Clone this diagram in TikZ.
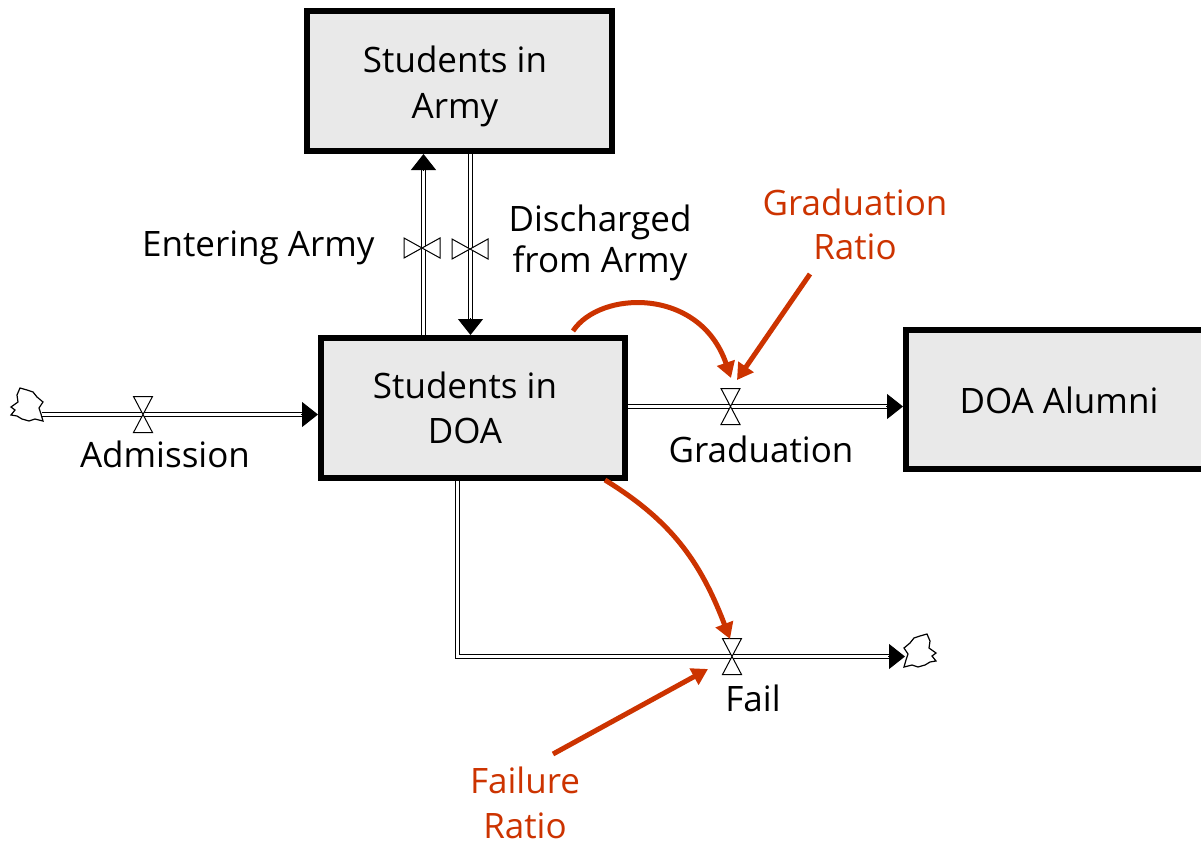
\documentclass[tikz,border=0pt]{standalone}
\usepackage{fontspec}
\setmainfont{Open Sans}
\usetikzlibrary{arrows.meta,calc}
\definecolor{ratiored}{RGB}{204,51,0}
\definecolor{stockfill}{RGB}{233,233,233}
\tikzset{
  stock/.style={draw=black, line width=3pt, fill=stockfill},
  pipe/.style={draw=black, line width=0.5pt, double=white, double distance=1.4pt, line join=miter},
  pipetip/.style={draw=black, line width=0.5pt, -{Triangle[length=8pt,width=12.5pt]}},
  ratio/.style={draw=ratiored, line width=2.5pt, -{Triangle[length=8pt,width=9pt]}},
  redtext/.style={text=ratiored, align=center},
  valveh/.pic={\draw[black, line width=0.5pt, fill=white]
      (-9.5,-18) -- (9.5,-18) -- (0,0) -- cycle
      (-9.5,18) -- (9.5,18) -- (0,0) -- cycle;},
  valvev/.pic={\draw[black, line width=0.5pt, fill=white]
      (-18,-10) -- (-18,10) -- (0,0) -- cycle
      (18,-10) -- (18,10) -- (0,0) -- cycle;},
  cloudpic/.pic={\draw[black, line width=0.6pt, fill=white]
      (-7,-18) -- (0,-16) -- (6,-14) -- (10,-9) -- (16,-4) -- (12,2) -- (14,8)
      -- (16,15) -- (8,13) -- (2,15) -- (-5,13) -- (-10,10) -- (-16,9) -- (-12,4)
      -- (-16,1) -- (-9,-4) -- (-10,-11) -- cycle;}
}
\begin{document}
\begin{tikzpicture}[x=0.5pt,y=-0.5pt,
  every node/.style={font=\fontsize{17.5}{22.5}\selectfont, inner sep=0pt}]
\useasboundingbox (0,0) rectangle (1201,848);

% stocks
\node[stock, minimum width=152.5pt, minimum height=70pt] (army) at (459.5,81) {};
\node[stock, minimum width=152pt, minimum height=70pt] (doa) at (473,408) {};
\node[stock, minimum width=154pt, minimum height=69.5pt] (alumni) at (1060,399.5) {};
\node[align=center, font=\fontsize{17.5}{23}\selectfont] (armytxt) at (455,86.4) {Students in\\Army};
\node[align=center] (doatxt) at (465,407.5) {Students in\\DOA};
\node[anchor=base] (alumnitxt) at (1059,413.3) {DOA Alumni};

% coordinates
\coordinate (src) at (42,414.5);
\coordinate (admend) at (src -| doa.west);
\coordinate (entA) at (423.5,0 |- doa.north);
\coordinate (entB) at (423.5,0 |- army.south);
\coordinate (disA) at (470.5,0 |- army.south);
\coordinate (disB) at (470.5,0 |- doa.north);
\coordinate (gradA) at (doa.east |- 0,406.5);
\coordinate (gradB) at (alumni.west |- 0,406.5);
\coordinate (failA) at (457.5,0 |- doa.south);
\coordinate (failB) at (905,656.5);
\coordinate (admv) at (143,414.5);
\coordinate (entv) at (422,248);
\coordinate (disv) at (470,249);
\coordinate (gradv) at (730.5,406.5);
\coordinate (failv) at (732,656.5);

% clouds
\pic at (27,406) {cloudpic};
\pic[xscale=-1] at (920,652) {cloudpic};

% pipes
\draw[pipe] (src) -- ($(admend)+(-15,0)$);
\draw[pipetip] ($(admend)+(-17,0)$) -- (admend);
\draw[pipe] (entA) -- ($(entB)+(0,15)$);
\draw[pipetip] ($(entB)+(0,17)$) -- (entB);
\draw[pipe] (disA) -- ($(disB)+(0,-15)$);
\draw[pipetip] ($(disB)+(0,-17)$) -- (disB);
\draw[pipe] (gradA) -- ($(gradB)+(-15,0)$);
\draw[pipetip] ($(gradB)+(-17,0)$) -- (gradB);
\draw[pipe] (failA) |- ($(failB)+(-15,0)$);
\draw[pipetip] ($(failB)+(-17,0)$) -- (failB);

% valves
\pic at (admv) {valveh};
\pic at (entv) {valvev};
\pic at (disv) {valvev};
\pic at (gradv) {valveh};
\pic at (failv) {valveh};

% labels
\node[anchor=base] (admtxt) at (165,467.7) {Admission};
\node[anchor=base east] (enttxt) at (375,256) {Entering Army};
\node[align=center, font=\fontsize{17.5}{20.5}\selectfont] (distxt) at (600,242.6) {Discharged\\from Army};
\node[anchor=base] (gradtxt) at (761,462.7) {Graduation};
\node[anchor=base] (failtxt) at (753,711.7) {Fail};
\node[redtext, font=\fontsize{17.5}{22}\selectfont] (grtxt) at (855,224.7) {Graduation\\Ratio};
\node[redtext, font=\fontsize{17.5}{22.5}\selectfont] (frtxt) at (525,803) {Failure\\Ratio};

% information links
\coordinate (gl1) at (573,331);
\coordinate (gl1end) at (731,378);
\coordinate (gl2) at (810,274);
\coordinate (gl2end) at (737,380);
\coordinate (fl1) at (605,480);
\coordinate (fl1end) at (730,639);
\coordinate (fl2) at (553,754);
\coordinate (fl2end) at (708,669);
\draw[ratio] (gl1) .. controls (600,290) and (700,287) .. (gl1end);
\draw[ratio] (gl2) -- (gl2end);
\draw[ratio] (fl1) .. controls (670,520) and (700,560) .. (fl1end);
\draw[ratio] (fl2) -- (fl2end);
\end{tikzpicture}
\end{document}
